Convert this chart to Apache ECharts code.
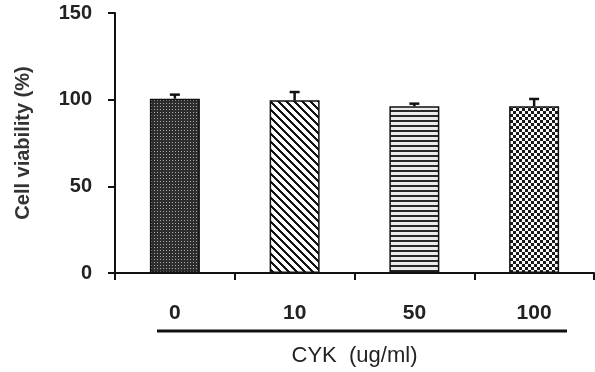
<!DOCTYPE html>
<html>
<head>
<meta charset="utf-8">
<script src="https://cdn.jsdelivr.net/npm/echarts@6/dist/echarts.min.js"></script>
<style>
html, body { margin: 0; padding: 0; background: #fff; }
#chart { width: 595px; height: 372px; }
</style>
</head>
<body>
<div id="chart"></div>
<script>
// data
const doses = ['0', '10', '50', '100']
const viability = [100.6, 99.6, 96.2, 96.2]
const errUp = [2.3, 4.8, 1.5, 4.2]
const yTicks = [0, 50, 100, 150]

// fill patterns for the bars
function makePattern (w, h, fn) {
  const c = document.createElement('canvas')
  c.width = w
  c.height = h
  const ctx = c.getContext('2d')
  const img = ctx.createImageData(w, h)
  for (let y = 0; y < h; y++) {
    for (let x = 0; x < w; x++) {
      const v = fn(x, y)
      const i = (y * w + x) * 4
      img.data[i] = v
      img.data[i + 1] = v
      img.data[i + 2] = v
      img.data[i + 3] = 255
    }
  }
  ctx.putImageData(img, 0, 0)
  return c
}
const patterns = [
  makePattern(3, 3, (x, y) => (x === 1 && y === 1) ? 170 : 45),
  makePattern(8, 8, (x, y) => (((x - y) % 8 + 8) % 8 < 3) ? 20 : 255),
  makePattern(4, 5, (x, y) => (y < 2) ? 40 : 235),
  makePattern(6, 6, (x, y) => ((Math.floor(x / 3) + Math.floor(y / 3)) % 2 === 0) ? 25 : 250)
]

const chart = echarts.init(document.getElementById('chart'), null, { renderer: 'canvas' })

const barData = viability.map((v, i) => ({
  value: v,
  itemStyle: { color: { image: patterns[i], repeat: 'repeat' } }
}))

const option = {
  animation: false,
  backgroundColor: '#fff',
  grid: { left: 115, right: 1, top: 13, bottom: 98 },
  xAxis: {
    type: 'category',
    data: doses,
    name: 'CYK  (ug/ml)',
    nameLocation: 'middle',
    nameGap: 72,
    nameTextStyle: { fontFamily: 'Liberation Sans', fontSize: 22, color: '#222' },
    axisLine: { lineStyle: { color: '#111', width: 2 } },
    axisTick: { show: true, length: 7, lineStyle: { color: '#111', width: 2 } },
    axisLabel: { margin: 30, fontFamily: 'Liberation Sans', fontWeight: 'bold', fontSize: 21, color: '#222' }
  },
  yAxis: {
    type: 'value',
    min: 0,
    max: 150,
    interval: 50,
    name: 'Cell viability (%)',
    nameLocation: 'middle',
    nameRotate: 90,
    nameGap: 82,
    nameTextStyle: { fontFamily: 'Liberation Sans', fontWeight: 'bold', fontSize: 20, color: '#333' },
    axisLine: { show: true, lineStyle: { color: '#111', width: 2 } },
    axisTick: { show: true, length: 7, lineStyle: { color: '#111', width: 2 } },
    axisLabel: {
      margin: 23,
      fontFamily: 'Liberation Sans',
      fontWeight: 'bold',
      fontSize: 20,
      color: '#222',
      formatter: v => yTicks.indexOf(v) >= 0 ? String(v) : ''
    },
    splitLine: { show: false }
  },
  graphic: [
    {
      type: 'line',
      shape: { x1: 157, y1: 331, x2: 567, y2: 331 },
      style: { stroke: '#111', lineWidth: 3 }
    }
  ],
  series: [
    {
      type: 'bar',
      data: barData,
      barWidth: 50,
      itemStyle: { borderColor: '#111', borderWidth: 1.5 }
    },
    {
      type: 'custom',
      data: viability.map((v, i) => [i, v, v + errUp[i]]),
      renderItem: function (params, api) {
        const p0 = api.coord([api.value(0), api.value(1)])
        const p1 = api.coord([api.value(0), api.value(2)])
        return {
          type: 'group',
          children: [
            { type: 'line', shape: { x1: p0[0], y1: p0[1], x2: p1[0], y2: p1[1] }, style: { stroke: '#111', lineWidth: 2.5 } },
            { type: 'line', shape: { x1: p1[0] - 5, y1: p1[1], x2: p1[0] + 5, y2: p1[1] }, style: { stroke: '#111', lineWidth: 2.5 } }
          ]
        }
      },
      z: 5
    }
  ]
}
chart.setOption(option)
</script>
</body>
</html>
